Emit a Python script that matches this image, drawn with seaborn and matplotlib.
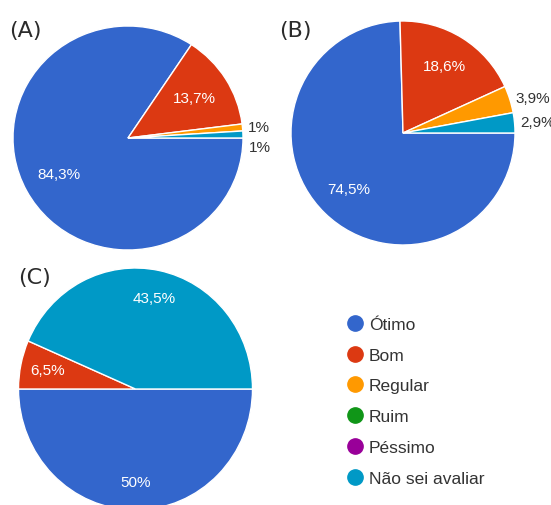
import numpy as np
import matplotlib
matplotlib.use("Agg")
import matplotlib.pyplot as plt
from matplotlib.lines import Line2D
import seaborn as sns

CATEGORIES = ["Ótimo", "Bom", "Regular", "Ruim", "Péssimo", "Não sei avaliar"]
COLORS = ["#3366cc", "#dc3912", "#ff9900", "#109618", "#990099", "#0099c6"]

VALUES_A = [84.3, 13.7, 1.0, 0.0, 0.0, 1.0]
VALUES_B = [74.5, 18.6, 3.9, 0.0, 0.0, 2.9]
VALUES_C = [50.0, 6.5, 0.0, 0.0, 0.0, 43.5]
PANEL_TITLES = ["(A)", "(B)", "(C)"]

W, H = 551, 506

sns.set_theme(style="white")
plt.rcParams["font.family"] = ["Liberation Sans", "DejaVu Sans"]
palette = sns.color_palette(COLORS)


def pct_text(v):
    return f"{v:g}".replace(".", ",") + "%"


def px_axes(fig, cx, cy, rx, ry):
    return fig.add_axes([(cx - rx) / W, (H - cy - ry) / H, 2 * rx / W, 2 * ry / H])


def draw_pie(ax, values, inner_dist):
    keep = [i for i, v in enumerate(values) if v > 0]
    vals = [values[i] for i in keep]
    cols = [palette[i] for i in keep]
    wedges, _ = ax.pie(vals, colors=cols, startangle=0, counterclock=False,
                       radius=1.0, wedgeprops=dict(edgecolor="white", linewidth=1.0, clip_on=False))
    ax.set_xlim(-1, 1)
    ax.set_ylim(-1, 1)
    ax.set_aspect("auto")
    ax.axis("off")
    outside = []
    for w, v in zip(wedges, vals):
        mid = np.deg2rad((w.theta1 + w.theta2) / 2)
        if v >= 5:
            ax.text(inner_dist * np.cos(mid), inner_dist * np.sin(mid), pct_text(v),
                    ha="center", va="center", color="white", fontsize=11)
        else:
            outside.append([1.05 * np.cos(mid), 1.05 * np.sin(mid), v])
    outside.sort(key=lambda t: -t[1])
    for k in range(1, len(outside)):
        outside[k][1] = min(outside[k][1], outside[k - 1][1] - 0.18)
    for x, y, v in outside:
        ax.text(x, y, pct_text(v), ha="left", va="center", color="#333333", fontsize=11)


fig = plt.figure(figsize=(W / 100, H / 100), dpi=100)

ax_a = px_axes(fig, 128, 139, 115, 112)
draw_pie(ax_a, VALUES_A, 0.68)
ax_b = px_axes(fig, 403, 134, 112, 112)
draw_pie(ax_b, VALUES_B, 0.70)
ax_c = px_axes(fig, 135.5, 390, 117, 121)
draw_pie(ax_c, VALUES_C, 0.77)

title_pos = [(9, 31), (279, 31), (18, 278)]
for t, (x, y) in zip(PANEL_TITLES, title_pos):
    fig.text(x / W, 1 - y / H, t, ha="left", va="center", fontsize=16, color="#2b2b2b",
             family=["DejaVu Sans"])

handles = [Line2D([0], [0], marker="o", linestyle="", markersize=11,
                  markerfacecolor=c, markeredgecolor=c) for c in palette]
fig.legend(handles, CATEGORIES, loc="upper left", bbox_to_anchor=(336 / W, 1 - 309 / H),
           frameon=False, fontsize=12.5, handletextpad=0.2, labelspacing=0.9,
           handlelength=1.2, borderpad=0, labelcolor="#333333")

fig.savefig("out.png", dpi=100)
